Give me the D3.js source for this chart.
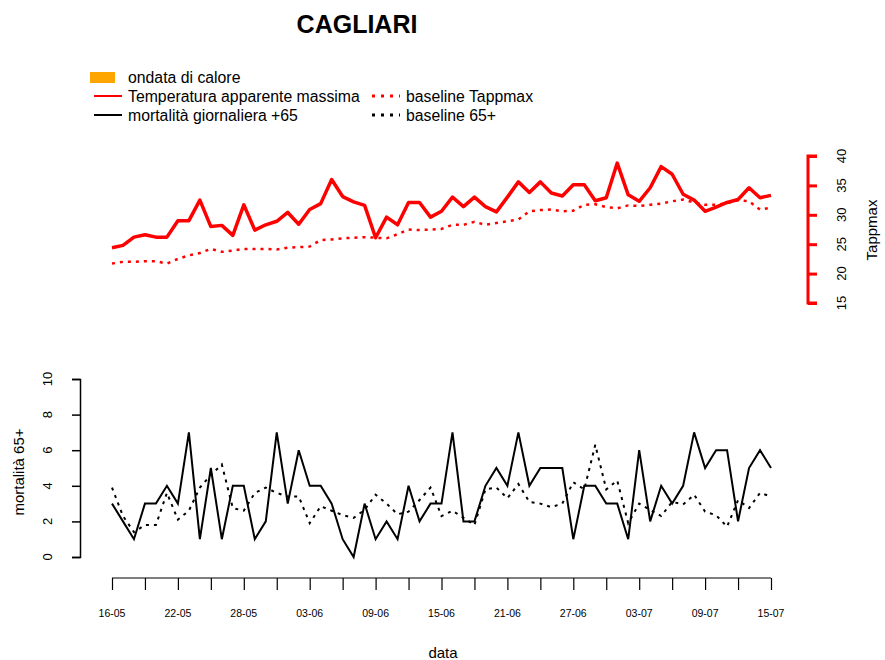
<!DOCTYPE html>
<html>
<head>
<meta charset="utf-8">
<script src="https://cdn.jsdelivr.net/npm/d3@7"></script>
<style>
  body { margin: 0; background: #fff; }
  text { font-family: "Liberation Sans", Arial, sans-serif; }
</style>
</head>
<body>
<div id="chart"></div>
<script>
// days from 16-05 to 15-07
var startDate = new Date(2020, 4, 16);
var nDays = 61;
var dates = d3.range(nDays).map(function (i) { return d3.timeDay.offset(startDate, i); });

// Temperatura apparente massima
var tappmax = [24.4, 24.8, 26.2, 26.6, 26.2, 26.2, 29.0, 29.0, 32.5, 28.0,
    28.2, 26.5, 31.7, 27.4, 28.3, 28.9, 30.4, 28.4, 30.9, 31.9,
    36.0, 33.1, 32.2, 31.6, 26.1, 29.6, 28.3, 32.1, 32.1, 29.6,
    30.6, 33.0, 31.4, 33.0, 31.4, 30.5, 33.0, 35.6, 33.8, 35.6,
    33.7, 33.2, 35.1, 35.1, 32.4, 32.9, 38.8, 33.4, 32.3, 34.6,
    38.2, 36.9, 33.5, 32.5, 30.6, 31.3, 32.1, 32.6, 34.6, 32.9, 33.3];

// baseline Tappmax
var baseTapp = [21.7, 22.0, 22.0, 22.1, 22.1, 21.7, 22.5, 23.1, 23.5, 24.2,
    23.7, 23.9, 24.2, 24.2, 24.2, 24.1, 24.4, 24.5, 24.6, 25.7,
    25.8, 26.0, 26.1, 26.2, 26.1, 26.0, 26.7, 27.5, 27.4, 27.5,
    27.6, 28.3, 28.3, 28.8, 28.3, 28.6, 28.9, 29.2, 30.6, 30.8,
    30.9, 30.6, 30.7, 31.7, 31.8, 31.3, 31.1, 31.6, 31.5, 31.7,
    31.9, 32.3, 32.6, 32.1, 31.7, 31.7, 32.0, 32.5, 32.3, 30.9, 31.2];

// mortalità giornaliera +65
var mort = [3, 2, 1, 3, 3, 4, 3, 7, 1, 5,
    1, 4, 4, 1, 2, 7, 3, 6, 4, 4,
    3, 1, 0, 3, 1, 2, 1, 4, 2, 3,
    3, 7, 2, 2, 4, 5, 4, 7, 4, 5,
    5, 5, 1, 4, 4, 3, 3, 1, 6, 2,
    4, 3, 4, 7, 5, 6, 6, 2, 5, 6, 5];

// baseline 65+
var baseMort = [3.9, 2.3, 1.4, 1.8, 1.8, 3.6, 2.1, 2.6, 3.9, 4.6,
    5.2, 2.75, 2.6, 3.6, 3.9, 3.6, 3.4, 3.4, 1.9, 2.85,
    2.6, 2.35, 2.2, 2.65, 3.5, 3.0, 2.4, 2.55, 3.2, 3.9,
    2.3, 2.6, 2.2, 1.8, 3.8, 3.9, 3.3, 4.1, 3.1, 3.0,
    2.8, 3.0, 4.2, 3.8, 6.3, 3.8, 4.3, 1.9, 3.0, 2.65,
    2.3, 3.1, 2.95, 3.5, 2.55, 2.35, 1.7, 3.2, 2.75, 3.6, 3.4];

var tappTicks = [15, 20, 25, 30, 35, 40];
var mortTicks = [0, 2, 4, 6, 8, 10];

var width = 885, height = 660;
var svg = d3.select("#chart").append("svg")
    .attr("width", width)
    .attr("height", height);

var x = d3.scaleTime().domain([dates[0], dates[nDays - 1]]).range([112, 771]);
var yT = d3.scaleLinear().domain([15, 40]).range([303, 156]);
var yM = d3.scaleLinear().domain([0, 10]).range([557, 379]);

//Title
svg.append("text")
    .attr("x", 357).attr("y", 33)
    .attr("text-anchor", "middle")
    .style("font-size", "25px").style("font-weight", "bold")
    .text("CAGLIARI");

//Legend
var leg = svg.append("g");
leg.append("rect").attr("x", 90).attr("y", 72).attr("width", 25).attr("height", 11).attr("fill", "orange");
var legItems = [
    {label: "ondata di calore", x: 128, y: 83},
    {label: "Temperatura apparente massima", x: 128, y: 102, color: "red", dash: null, lx: 94},
    {label: "mortalità giornaliera +65", x: 128, y: 121, color: "black", dash: null, lx: 94},
    {label: "baseline Tappmax", x: 406, y: 102, color: "red", dash: "3,6", lx: 372},
    {label: "baseline 65+", x: 406, y: 121, color: "black", dash: "3,6", lx: 372}
];
legItems.forEach(function (d) {
    if (d.color) {
        leg.append("line")
            .attr("x1", d.lx).attr("x2", d.lx + 28)
            .attr("y1", d.y - 6).attr("y2", d.y - 6)
            .attr("stroke", d.color)
            .attr("stroke-width", d.dash ? 3 : 2)
            .attr("stroke-dasharray", d.dash);
    }
    leg.append("text").attr("x", d.x).attr("y", d.y)
        .style("font-size", "15.8px").text(d.label);
});

//Temperature lines
var lineT = d3.line().x(function (d, i) { return x(dates[i]); }).y(function (d) { return yT(d); });
svg.append("path").datum(baseTapp)
    .attr("d", lineT).attr("fill", "none")
    .attr("stroke", "red").attr("stroke-width", 2.5).attr("stroke-dasharray", "3,5");
svg.append("path").datum(tappmax)
    .attr("d", lineT).attr("fill", "none")
    .attr("stroke", "red").attr("stroke-width", 3.5).attr("stroke-linejoin", "round");

//Right red axis
var axT = svg.append("g").attr("transform", "translate(808,0)")
    .call(d3.axisRight(yT).tickValues(tappTicks).tickSize(9).tickFormat(""));
axT.selectAll("path, line").attr("stroke", "red").attr("stroke-width", 3);
axT.select(".domain").attr("d", "M9," + yT(15) + "H0V" + yT(40) + "H9");
tappTicks.forEach(function (t) {
    svg.append("text")
        .attr("transform", "translate(846," + yT(t) + ") rotate(-90)")
        .attr("text-anchor", "middle")
        .style("font-size", "13px").text(t);
});
svg.append("text")
    .attr("transform", "translate(877,230) rotate(-90)")
    .attr("text-anchor", "middle")
    .style("font-size", "15px").text("Tappmax");

//Mortality lines
var lineM = d3.line().x(function (d, i) { return x(dates[i]); }).y(function (d) { return yM(d); });
svg.append("path").datum(baseMort)
    .attr("d", lineM).attr("fill", "none")
    .attr("stroke", "black").attr("stroke-width", 2).attr("stroke-dasharray", "3,5");
svg.append("path").datum(mort)
    .attr("d", lineM).attr("fill", "none")
    .attr("stroke", "black").attr("stroke-width", 2);

//Left axis
var axM = svg.append("g").attr("transform", "translate(80,0)")
    .call(d3.axisLeft(yM).tickValues(mortTicks).tickSize(8).tickFormat(""));
axM.selectAll("path, line").attr("stroke", "black").attr("stroke-width", 1.5);
mortTicks.forEach(function (t) {
    svg.append("text")
        .attr("transform", "translate(52," + yM(t) + ") rotate(-90)")
        .attr("text-anchor", "middle")
        .style("font-size", "13px").text(t);
});
svg.append("text")
    .attr("transform", "translate(24,472) rotate(-90)")
    .attr("text-anchor", "middle")
    .style("font-size", "15px").text("mortalità 65+");

//X axis
var tickDates = dates.filter(function (d, i) { return i % 3 === 0; });
var labelDates = dates.filter(function (d, i) { return i % 6 === 0; });
var axX = svg.append("g").attr("transform", "translate(0,578)")
    .call(d3.axisBottom(x).tickValues(tickDates).tickSize(12).tickFormat(""));
axX.selectAll("path, line").attr("stroke", "black").attr("stroke-width", 1.2);
axX.select(".domain").attr("d", "M" + x(dates[0]) + ",0H" + x(dates[nDays - 1]));
var fmt = d3.timeFormat("%d-%m");
svg.selectAll(".xlab").data(labelDates).enter().append("text")
    .attr("class", "xlab")
    .attr("x", function (d) { return x(d); })
    .attr("y", 617)
    .attr("text-anchor", "middle")
    .style("font-size", "10.5px")
    .text(function (d) { return fmt(d); });
svg.append("text")
    .attr("x", 443).attr("y", 658)
    .attr("text-anchor", "middle")
    .style("font-size", "15px").text("data");
</script>
</body>
</html>
